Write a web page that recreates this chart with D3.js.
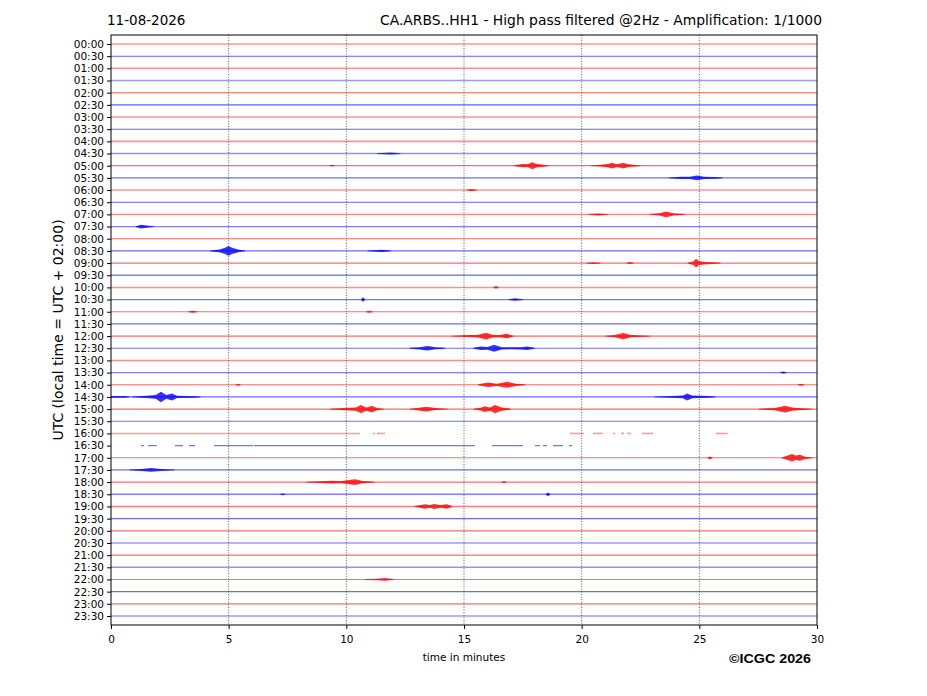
<!DOCTYPE html>
<html>
<head>
    <script src="https://d3js.org/d3.v7.min.js"></script>
    <style>
        body { margin: 0; background: #fff; }
        text { font-family: "DejaVu Sans", sans-serif; }
    </style>
</head>
<body>
    <div id="helicorder"></div>
    <script>
        // rows of the drum, one every 30 minutes
        var rowLabels = ["00:00","00:30","01:00","01:30","02:00","02:30","03:00","03:30",
            "04:00","04:30","05:00","05:30","06:00","06:30","07:00","07:30",
            "08:00","08:30","09:00","09:30","10:00","10:30","11:00","11:30",
            "12:00","12:30","13:00","13:30","14:00","14:30","15:00","15:30",
            "16:00","16:30","17:00","17:30","18:00","18:30","19:00","19:30",
            "20:00","20:30","21:00","21:30","22:00","22:30","23:00","23:30"];

        // background noise level of each row (0 quiet .. 1 noisy)
        var rowNoise = [0.2,0.2,0.7,0.8,0.2,0.2,0.2,0.2,
            0.7,0.7,0.3,0.3,0.2,0.2,0.6,0.5,
            0.3,0.3,0.3,0.5,0.7,0.4,0.3,0.3,
            0.3,0.3,0.7,0.5,0.3,0.3,0.3,0.3,
            0.8,0.4,0.3,0.3,0.3,0.5,0.5,0.3,
            0.3,0.3,0.3,0.7,0.3,0.3,0.3,0.3];

        var xTicks = [0, 5, 10, 15, 20, 25, 30];

        // rows with data gaps: recorded stretches in minutes
        var segments1600 = [[0,10.58],[11.13,11.22],[11.30,11.64],[19.50,20.10],[20.48,20.91],
            [21.33,21.42],[21.67,21.80],[21.93,22.10],[22.56,23.03],[25.70,26.21]];
        var segments1630 = [[1.27,1.40],[1.57,1.95],[2.72,3.06],[3.31,3.57],[4.38,6.03],
            [6.08,15.47],[16.19,17.51],[18.02,18.23],[18.36,18.53],[18.78,19.21],[19.46,19.59]];

        // signal envelopes: [row, [[minute, half amplitude in row heights], ...]]
        var bursts = [
            ["04:30", [[11.3,0],[11.9,0.05],[12.3,0]]],
            ["05:00", [[9.3,0],[9.4,0.04],[9.5,0]]],
            ["05:00", [[17.1,0],[17.5,0.1],[17.7,0.08],[17.9,0.25],[18.1,0.1],[18.4,0.05],[18.6,0]]],
            ["05:00", [[20.4,0],[20.8,0.04],[21.1,0.1],[21.3,0.2],[21.5,0.08],[21.76,0.2],[22.0,0.08],[22.3,0.03],[22.5,0]]],
            ["05:30", [[23.7,0],[24.2,0.05],[24.6,0.06],[24.9,0.17],[25.2,0.06],[25.7,0.04],[26.0,0]]],
            ["06:00", [[15.1,0],[15.3,0.05],[15.55,0]]],
            ["07:00", [[20.3,0],[20.7,0.05],[21.1,0]]],
            ["07:00", [[22.9,0],[23.3,0.06],[23.58,0.2],[23.9,0.06],[24.4,0]]],
            ["07:30", [[1.05,0],[1.27,0.12],[1.6,0.04],[1.8,0]]],
            ["08:30", [[4.2,0],[4.6,0.08],[4.85,0.22],[4.98,0.37],[5.15,0.22],[5.4,0.08],[5.7,0]]],
            ["08:30", [[10.9,0],[11.3,0.04],[11.5,0.06],[11.9,0]]],
            ["09:00", [[20.2,0],[20.5,0.04],[20.8,0]]],
            ["09:00", [[21.9,0],[22.05,0.05],[22.2,0]]],
            ["09:00", [[24.5,0],[24.75,0.12],[24.86,0.33],[25.0,0.12],[25.3,0.06],[25.6,0.04],[25.9,0]]],
            ["10:00", [[16.25,0],[16.36,0.08],[16.47,0]]],
            ["10:30", [[10.62,0],[10.71,0.15],[10.8,0]]],
            ["10:30", [[16.9,0],[17.17,0.07],[17.5,0]]],
            ["11:00", [[3.3,0],[3.48,0.04],[3.65,0]]],
            ["11:00", [[10.85,0],[10.96,0.05],[11.1,0]]],
            ["12:00", [[14.5,0],[15.2,0.05],[15.6,0.08],[15.94,0.25],[16.2,0.08],[16.5,0.06],[16.83,0.15],[17.1,0]]],
            ["12:00", [[21.0,0],[21.4,0.06],[21.76,0.22],[22.1,0.06],[22.9,0]]],
            ["12:30", [[12.7,0],[13.1,0.06],[13.45,0.15],[13.8,0.05],[14.2,0]]],
            ["12:30", [[15.4,0],[15.72,0.12],[16.0,0.08],[16.28,0.25],[16.6,0.06],[17.0,0.04],[17.4,0.06],[17.68,0.12],[18.0,0]]],
            ["13:30", [[28.45,0],[28.56,0.05],[28.7,0]]],
            ["14:00", [[5.3,0],[5.4,0.04],[5.5,0]]],
            ["14:00", [[15.6,0],[16.02,0.15],[16.4,0.06],[16.83,0.22],[17.2,0.06],[17.6,0]]],
            ["14:00", [[29.2,0],[29.3,0.04],[29.45,0]]],
            ["14:30", [[0,0.04],[0.6,0.04],[0.8,0]]],
            ["14:30", [[0.9,0],[1.5,0.06],[1.9,0.12],[2.12,0.4],[2.35,0.12],[2.6,0.25],[2.8,0.06],[3.6,0.03],[3.8,0]]],
            ["14:30", [[23.1,0],[23.8,0.04],[24.3,0.08],[24.48,0.25],[24.7,0.08],[25.4,0.04],[25.7,0]]],
            ["15:00", [[9.3,0],[9.9,0.06],[10.4,0.1],[10.62,0.3],[10.85,0.1],[11.09,0.25],[11.3,0.06],[11.6,0]]],
            ["15:00", [[12.7,0],[13.0,0.06],[13.39,0.17],[13.8,0.05],[14.3,0]]],
            ["15:00", [[15.4,0],[15.7,0.08],[15.89,0.2],[16.1,0.1],[16.32,0.3],[16.6,0.1],[17.0,0]]],
            ["15:00", [[27.5,0],[28.2,0.06],[28.64,0.25],[29.0,0.08],[29.8,0]]],
            ["17:00", [[25.35,0],[25.45,0.08],[25.55,0]]],
            ["17:00", [[28.5,0],[28.75,0.15],[28.94,0.28],[29.1,0.15],[29.28,0.22],[29.5,0.06],[29.8,0]]],
            ["17:30", [[0.8,0],[1.3,0.05],[1.7,0.12],[2.1,0.05],[2.7,0]]],
            ["18:00", [[8.3,0],[9.4,0.07],[9.8,0.05],[10.37,0.2],[10.7,0.05],[11.2,0]]],
            ["18:00", [[16.6,0],[16.7,0.04],[16.8,0]]],
            ["18:30", [[7.2,0],[7.3,0.04],[7.4,0]]],
            ["18:30", [[18.48,0],[18.57,0.12],[18.66,0]]],
            ["19:00", [[12.9,0],[13.35,0.15],[13.55,0.08],[13.73,0.17],[14.0,0.08],[14.27,0.15],[14.5,0]]],
            ["22:00", [[10.8,0],[11.3,0.03],[11.64,0.08],[12.0,0]]]
        ];

        var traceSegments = { "16:00": segments1600, "16:30": segments1630 };

        var margin = { top: 35, right: 110, bottom: 71, left: 111 },
            width = 927 - margin.left - margin.right,
            height = 696 - margin.top - margin.bottom;

        var root = d3.select("#helicorder")
            .append("svg")
            .attr("width", 927)
            .attr("height", 696);

        var svg = root.append("g")
            .attr("transform", "translate(" + margin.left + "," + margin.top + ")");

        var x = d3.scaleLinear().domain([0, 30]).range([0, width]);
        var y = d3.scalePoint().domain(rowLabels).range([0, height]).padding(0.74);
        var amp = d3.scaleLinear().domain([0, 1]).range([0, y.step()]);
        var lineWidth = d3.scaleLinear().domain([0, 1]).range([0.9, 1.8]);
        var lineAlpha = d3.scaleLinear().domain([0, 1]).range([0.7, 0.32]);

        function rowColor(label) {
            return rowLabels.indexOf(label) % 2 === 0 ? "#ff0000" : "#0000ff";
        }

        // vertical dotted grid
        svg.append("g")
            .selectAll("line")
            .data(xTicks.slice(1, -1))
            .join("line")
            .attr("x1", d => x(d)).attr("x2", d => x(d))
            .attr("y1", 0).attr("y2", height)
            .attr("stroke", "#333")
            .attr("stroke-width", 0.8)
            .attr("stroke-dasharray", "1,1.6");

        // baseline traces
        var line = d3.line()
            .x(d => x(d[0]))
            .y(d => d[1]);

        rowLabels.forEach(function (label, i) {
            var segs = traceSegments[label] || [[0, 30]];
            svg.append("g")
                .selectAll("path")
                .data(segs)
                .join("path")
                .attr("fill", "none")
                .attr("stroke", rowColor(label))
                .attr("stroke-opacity", lineAlpha(rowNoise[i]))
                .attr("stroke-width", lineWidth(rowNoise[i]))
                .attr("d", s => line([[s[0], y(label)], [s[1], y(label)]]));
        });

        // signal bursts as envelopes around the trace
        svg.append("g")
            .selectAll("path")
            .data(bursts)
            .join("path")
            .attr("fill", d => rowColor(d[0]))
            .attr("fill-opacity", 0.8)
            .attr("d", function (d) {
                var y0 = y(d[0]);
                return d3.area()
                    .x(p => x(p[0]))
                    .y0(p => y0 - amp(p[1]) - 0.4)
                    .y1(p => y0 + amp(p[1]) + 0.4)(d[1]);
            });

        // axes
        var yAxis = svg.append("g")
            .call(d3.axisLeft(y).tickSize(4).tickPadding(3));
        yAxis.select(".domain").remove();
        yAxis.selectAll("text").style("font-size", "10.5px").attr("fill", "#000");

        var xAxis = svg.append("g")
            .attr("transform", "translate(0," + height + ")")
            .call(d3.axisBottom(x).tickValues(xTicks).tickSize(4).tickPadding(7));
        xAxis.select(".domain").remove();
        xAxis.selectAll("text").style("font-size", "10.5px").attr("fill", "#000");

        // frame
        svg.append("rect")
            .attr("width", width)
            .attr("height", height)
            .attr("fill", "none")
            .attr("stroke", "#000")
            .attr("stroke-width", 1);

        // labels
        svg.append("text")
            .attr("x", width / 2)
            .attr("y", height + 36)
            .style("text-anchor", "middle")
            .style("font-size", "10.5px")
            .text("time in minutes");

        svg.append("text")
            .attr("transform", "rotate(-90)")
            .attr("x", -height / 2)
            .attr("y", -48)
            .style("text-anchor", "middle")
            .style("font-size", "14px")
            .text("UTC (local time = UTC + 02:00)");

        root.append("text")
            .attr("x", 107)
            .attr("y", 25)
            .style("font-size", "13.5px")
            .text("11-08-2026");

        root.append("text")
            .attr("x", 822)
            .attr("y", 25)
            .style("text-anchor", "end")
            .style("font-size", "13.5px")
            .attr("textLength", 442)
            .attr("lengthAdjust", "spacingAndGlyphs")
            .text("CA.ARBS..HH1 - High pass filtered @2Hz - Amplification: 1/1000");

        root.append("text")
            .attr("x", 729)
            .attr("y", 663)
            .style("font-family", "'Liberation Sans', Arial, sans-serif")
            .style("font-weight", "bold")
            .style("font-size", "12.5px")
            .attr("textLength", 82)
            .attr("lengthAdjust", "spacingAndGlyphs")
            .text("©ICGC 2026");
    </script>
</body>
</html>
